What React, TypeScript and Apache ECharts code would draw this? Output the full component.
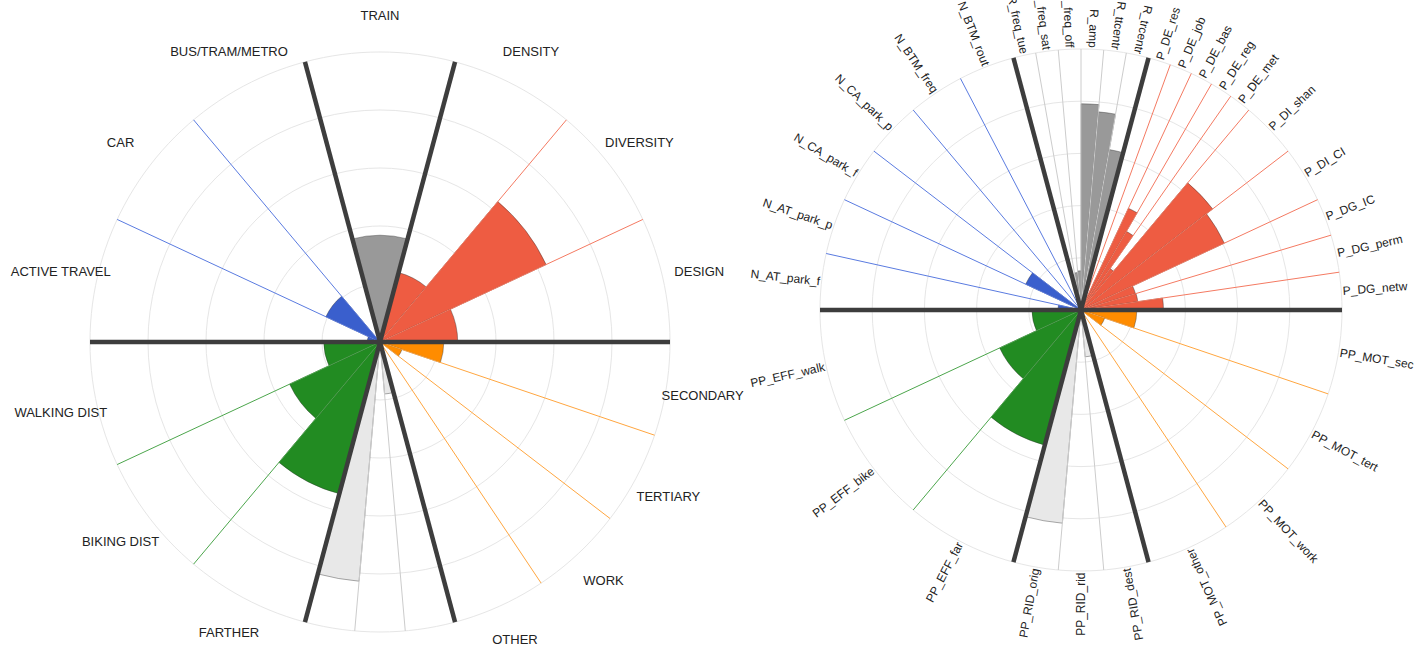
import React, { useEffect, useRef } from "react";
import * as echarts from "echarts";

// ---- data ----
const themeWeights = [2, 5, 5, 2, 5, 5];
const themeFill = ["#999999", "#EE5C42", "#FF8C00", "#E8E8E8", "#228B22", "#3A5FCD"];
const themeLine = ["#cccccc", "#F47A62", "#FFA640", "#cccccc", "#4CA64C", "#5A7BE0"];

// left chart, clockwise from the upper-left divider
const leftLabels = [
  "TRAIN", "DENSITY", "DIVERSITY", "DESIGN", "SECONDARY", "TERTIARY", "WORK", "OTHER",
  "", "", "", "FARTHER", "BIKING DIST", "WALKING DIST", "ACTIVE TRAVEL", "CAR", "BUS/TRAM/METRO",
];
const leftTheme = [0, 1, 1, 1, 2, 2, 2, 2, 3, 3, 3, 4, 4, 4, 5, 5, 5];
const leftValues = [1.84, 1.24, 3.16, 1.34, 1.1, 0.4, 0, 0, 0.9, 0, 4.14, 2.71, 1.72, 0.97, 0.22, 1.03, 0];

// right chart, clockwise from the upper-left divider
const rightLabels = [
  "R_freq_tue", "R_freq_sat", "R_freq_off", "R_amp", "R_ttcentr", "R_trcentr",
  "P_DE_res", "P_DE_job", "P_DE_bas", "P_DE_reg", "P_DE_met", "P_DI_shan", "P_DI_CI",
  "P_DG_IC", "P_DG_perm", "P_DG_netw",
  "PP_MOT_sec", "PP_MOT_tert", "PP_MOT_work", "PP_MOT_other",
  "PP_RID_dest", "PP_RID_rid", "PP_RID_orig",
  "PP_EFF_far", "PP_EFF_bike", "PP_EFF_walk",
  "N_AT_park_f", "N_AT_park_p", "N_CA_park_f", "N_CA_park_p", "N_BTM_freq", "N_BTM_rout",
];
const rightParent = [
  0, 0, 0, 0, 0, 0, 1, 1, 1, 1, 1, 2, 2, 3, 3, 3, 4, 5, 6, 7, 8, 9, 10, 11, 12, 13, 14, 14, 15, 15, 16, 16,
];
const rightValues = [
  0, 0.72, 0.75, 3.95, 3.81, 3.12,
  0, 0, 2.15, 1.74, 0.97, 3.18, 3.03,
  1.09, 1.1, 1.58,
  1.07, 0.48, 0, 0,
  0.9, 0, 4.1,
  2.68, 1.72, 0.94,
  0.44, 0, 1.17, 0, 0, 0,
];

const RMAX = 5;
const FONT = "'Liberation Sans', Arial, Helvetica, sans-serif";

function countOf(arr: number[], v: number) {
  return arr.filter((x) => x === v).length;
}

function buildItems(spans: number[], values: number[], themes: number[]) {
  const out: number[][] = [];
  let acc = 0;
  for (let i = 0; i < spans.length; i++) {
    const s = acc;
    const e = acc + spans[i];
    const first = i === 0 || themes[i] !== themes[i - 1] ? 1 : 0;
    out.push([values[i], (s + e) / 2, s, e, themes[i], first]);
    acc = e;
  }
  return out;
}

const wSum = themeWeights.reduce((a, b) => a + b, 0);
const themeSpan = themeWeights.map((w) => (360 * w) / wSum);
const leftSpan = leftTheme.map((t) => themeSpan[t] / countOf(leftTheme, t));
const rightSpan = rightParent.map((p) => leftSpan[p] / countOf(rightParent, p));
const rightTheme = rightParent.map((p) => leftTheme[p]);

const leftItems = buildItems(leftSpan, leftValues, leftTheme);
const rightItems = buildItems(rightSpan, rightValues, rightTheme);

function makeRender(labels: string[], side: "left" | "right") {
  return (params: any, api: any) => {
    const v = api.value(0);
    const mid = api.value(1);
    const s = api.value(2);
    const e = api.value(3);
    const t = api.value(4);
    const first = api.value(5);
    const c = api.coord([0, mid]);
    const cx = c[0];
    const cy = c[1];
    const ps = api.coord([RMAX, s]);
    const pe = api.coord([RMAX, e]);
    const pm = api.coord([RMAX, mid]);
    const R = Math.hypot(pm[0] - cx, pm[1] - cy);
    let a1 = Math.atan2(ps[1] - cy, ps[0] - cx);
    let a2 = Math.atan2(pe[1] - cy, pe[0] - cx);
    if (a2 <= a1) a2 += Math.PI * 2;
    const children: any[] = [];
    if (v > 0) {
      const pv = api.coord([v, mid]);
      const rv = Math.hypot(pv[0] - cx, pv[1] - cy);
      children.push({
        type: "sector",
        z2: 1,
        shape: { cx, cy, r0: 0, r: rv, startAngle: a1, endAngle: a2, clockwise: true },
        style: { fill: themeFill[t], stroke: "rgba(40,40,40,0.55)", lineWidth: 0.7 },
      });
    }
    if (first) {
      children.push({
        type: "line",
        z2: 3,
        shape: { x1: cx, y1: cy, x2: ps[0], y2: ps[1] },
        style: { stroke: "#3d3d3d", lineWidth: 4.5 },
      });
    } else {
      children.push({
        type: "line",
        z2: 2,
        shape: { x1: cx, y1: cy, x2: ps[0], y2: ps[1] },
        style: { stroke: themeLine[t], lineWidth: 1 },
      });
    }
    const text = labels[params.dataIndex];
    if (text) {
      const ux = (pm[0] - cx) / R;
      const uy = (pm[1] - cy) / R;
      if (side === "left") {
        children.push({
          type: "text",
          z2: 4,
          x: cx + ux * (R + 37),
          y: cy + uy * (R + 37),
          style: {
            text,
            fill: "#222",
            fontSize: 13,
            fontFamily: FONT,
            align: "center",
            verticalAlign: "middle",
          },
        });
      } else {
        let alpha = (Math.atan2(-uy, ux) * 180) / Math.PI;
        if (alpha < 0) alpha += 360;
        const flip = alpha > 75 && alpha < 300;
        const rot = ((flip ? alpha + 180 : alpha) * Math.PI) / 180;
        children.push({
          type: "text",
          z2: 4,
          x: cx + ux * (R + 1.5),
          y: cy + uy * (R + 1.5),
          rotation: rot,
          style: {
            text,
            fill: "#222",
            fontSize: 12,
            fontFamily: FONT,
            align: flip ? "right" : "left",
            verticalAlign: "middle",
          },
        });
      }
    }
    return { type: "group", children };
  };
}

function axisPair(i: number) {
  return {
    angle: {
      polarIndex: i,
      type: "value",
      min: 0,
      max: 360,
      startAngle: 105,
      clockwise: true,
      axisLine: { show: false },
      axisTick: { show: false },
      axisLabel: { show: false },
      splitLine: { show: false },
    },
    radius: {
      polarIndex: i,
      type: "value",
      min: 0,
      max: RMAX,
      interval: 1,
      axisLine: { show: false },
      axisTick: { show: false },
      axisLabel: { show: false },
      splitLine: { show: true, lineStyle: { color: "#e6e6e6", width: 1 } },
    },
  };
}

export default function App() {
  const ref = useRef<HTMLDivElement>(null);
  useEffect(() => {
    if (!ref.current) return;
    const chart = echarts.init(ref.current, null, { renderer: "svg" });
    const a0 = axisPair(0);
    const a1 = axisPair(1);
    chart.setOption({
      animation: false,
      backgroundColor: "#ffffff",
      polar: [
        { center: [380, 342], radius: 290 },
        { center: [1081, 310], radius: 261 },
      ],
      angleAxis: [a0.angle, a1.angle],
      radiusAxis: [a0.radius, a1.radius],
      series: [
        {
          type: "custom",
          coordinateSystem: "polar",
          polarIndex: 0,
          silent: true,
          clip: false,
          encode: { radius: 0, angle: 1 },
          data: leftItems,
          renderItem: makeRender(leftLabels, "left"),
        },
        {
          type: "custom",
          coordinateSystem: "polar",
          polarIndex: 1,
          silent: true,
          clip: false,
          encode: { radius: 0, angle: 1 },
          data: rightItems,
          renderItem: makeRender(rightLabels, "right"),
        },
      ],
    });
    return () => chart.dispose();
  }, []);
  return (
    <div
      ref={ref}
      style={{ position: "fixed", left: 0, top: 0, width: 1423, height: 646, background: "#fff" }}
    />
  );
}
